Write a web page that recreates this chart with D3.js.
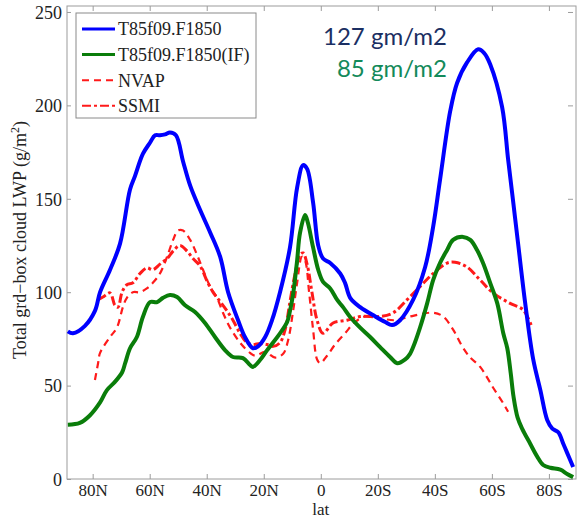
<!DOCTYPE html>
<html>
<head>
<meta charset="utf-8">
<script src="https://cdn.jsdelivr.net/npm/d3@7"></script>
<style>
  body { margin: 0; background: #fff; }
  svg { display: block; }
</style>
</head>
<body>
<div id="chart"></div>
<script>
// latitude in degrees (N positive), LWP in g/m2
const blueLat = [88.7, 86.9, 82.7, 79.2, 77.4, 73.9, 70.4, 66.9, 65.2, 62.4, 59.9, 58.1, 56.4, 54.6, 52.9, 50.8, 48.3, 45.8, 42.3, 38.8, 35.3, 32.5, 29.0, 26.6, 23.8, 22.0, 19.5, 17.1, 14.3, 10.8, 8.3, 6.2, 4.8, 2.7, 0.9, -0.8, -3.3, -6.8, -8.5, -10.3, -13.8, -19.1, -22.6, -25.0, -27.8, -32.4, -36.6, -39.4, -41.8, -45.4, -47.8, -51.3, -55.2, -57.3, -59.4, -63.6, -65.7, -67.5, -69.2, -71.7, -74.5, -77.0, -79.4, -81.2, -83.3, -85.0, -86.4, -88.5];
const blueVal = [79, 78, 82, 90, 100, 112, 126, 155, 162, 174, 180, 184, 184, 184.5, 185.5, 184, 170, 157, 144, 132, 119, 100, 85, 76, 70, 71, 76, 85, 100, 124, 156, 168, 166, 148, 125, 118, 115.6, 110, 105, 97, 92, 87, 84, 82.4, 85, 96, 113.5, 135, 160, 197, 212, 223, 230, 228, 222, 199, 171, 148, 126, 94, 64, 47.6, 31.6, 27, 25, 19, 14, 6.4];

const greenLat = [88.7, 84.5, 81.0, 77.4, 75.0, 72.2, 69.7, 68.6, 66.9, 64.5, 62.4, 59.9, 57.4, 55.3, 52.9, 50.4, 47.6, 44.1, 40.6, 37.1, 33.6, 30.8, 27.3, 24.8, 23.8, 21.3, 18.8, 14.3, 11.8, 10.8, 9.7, 8.3, 7.3, 5.5, 4.5, 2.7, 0.9, -0.8, -3.3, -5.7, -7.8, -10.3, -13.8, -17.3, -20.8, -24.3, -26.8, -29.6, -31.3, -32.4, -34.8, -37.3, -39.4, -41.8, -44.3, -46.4, -49.9, -52.4, -54.8, -56.9, -59.4, -61.9, -64.0, -65.4, -66.6, -67.6, -69.0, -70.6, -73.4, -75.9, -78.0, -80.5, -84.0, -86.4, -88.5];
const greenVal = [29, 30, 34, 41, 47.6, 52, 57, 62, 70, 76, 86.7, 94.7, 94.7, 97, 98.5, 97.4, 93, 89.4, 83.5, 76, 69, 65.3, 64.7, 61, 60, 63.7, 69, 78, 84, 90, 99, 117, 131.6, 141.3, 137, 124, 112, 105.5, 102, 96, 92, 86.7, 81, 76, 70.6, 65.3, 62, 64, 67, 70.6, 81, 94, 106.5, 115.6, 122.6, 128, 129.6, 128, 122.6, 115.6, 105, 94, 78, 70, 56.7, 44, 33, 27, 19, 12, 7.5, 6, 5, 2.7, 1];

const nvapLat = [79.2, 78.1, 77.4, 73.9, 71.5, 69.4, 68.0, 65.9, 63.4, 61.0, 58.9, 56.4, 53.9, 51.8, 50.1, 48.3, 45.8, 43.4, 41.3, 38.8, 36.4, 34.3, 31.8, 28.3, 24.8, 23.0, 19.5, 16.0, 13.2, 11.5, 9.7, 8.3, 6.6, 5.5, 4.1, 2.7, 1.3, 0.2, -2.2, -5.0, -8.5, -12.0, -15.5, -20.8, -26.1, -31.3, -39.4, -42.9, -46.4, -49.6, -52.4, -55.9, -60.4, -64.0, -65.7];
const nvapVal = [53, 62, 67.5, 76, 81, 92, 97, 100, 100, 102, 105, 110, 119, 128, 133, 133, 128, 120, 112, 103, 97, 89, 81, 73, 67.5, 66, 68, 65, 67, 74, 90, 105, 119, 117, 100, 80, 64, 62, 66, 72, 78, 84, 87, 86, 85, 87, 89, 87, 80, 71, 65, 60, 49, 40.5, 36];

const ssmiLat = [78.1, 76.4, 73.9, 72.2, 71.1, 69.7, 68.0, 65.9, 63.4, 61.0, 58.9, 56.4, 53.9, 51.8, 49.4, 46.9, 44.8, 42.3, 39.9, 37.8, 35.3, 32.9, 30.8, 28.3, 25.9, 23.8, 21.3, 18.8, 16.7, 14.3, 12.5, 10.8, 9.0, 7.3, 6.2, 4.8, 3.1, 1.3, -0.8, -4.3, -9.2, -13.8, -20.8, -25.4, -30.3, -34.8, -39.4, -44.3, -47.1, -51.3, -55.9, -60.4, -66.4, -71.0, -74.1];
const ssmiVal = [96, 97.4, 99.6, 93, 92, 100, 104, 105, 110, 113, 112, 115, 118, 122, 125, 122, 118, 114, 106, 100, 95, 90, 85, 78, 73, 72, 72.5, 72, 71, 73, 80, 95, 110, 120, 121, 115, 100, 85, 78, 83.5, 85, 87, 87, 89, 96, 103, 110, 115.6, 116, 113.5, 106.5, 99.6, 94, 90.5, 81];

const seriesNames = ["T85f09.F1850", "T85f09.F1850(IF)", "NVAP", "SSMI"];
const xTicks = [80, 60, 40, 20, 0, -20, -40, -60, -80];
const xTickLabels = ["80N", "60N", "40N", "20N", "0", "20S", "40S", "60S", "80S"];
const yTicks = [0, 50, 100, 150, 200, 250];
const annotations = ["127 gm/m2", "85 gm/m2"];

const W = 577, H = 519;
const plotLeft = 67, plotRight = 576, plotTop = 6, plotBottom = 479;
const serif = "'Liberation Serif', 'Times New Roman', serif";
const axisGrey = "#9c9c9c";

const svg = d3.select("#chart").append("svg")
    .attr("width", W)
    .attr("height", H);

const x = d3.scaleLinear().domain([89, -89.5]).range([plotLeft, plotRight]);
const y = d3.scaleLinear().domain([0, 253.2]).range([plotBottom, plotTop]);

// frame
svg.append("rect")
    .attr("x", plotLeft).attr("y", plotTop)
    .attr("width", plotRight - plotLeft).attr("height", plotBottom - plotTop)
    .attr("fill", "none")
    .attr("stroke", axisGrey)
    .attr("stroke-width", 1);

// bottom axis, ticks pointing in
const xAxis = svg.append("g")
    .attr("transform", `translate(0,${plotBottom})`)
    .call(d3.axisBottom(x).tickValues(xTicks)
        .tickFormat((d, i) => xTickLabels[i])
        .tickSizeInner(-5).tickSizeOuter(0));
// top axis ticks only
const xAxisTop = svg.append("g")
    .attr("transform", `translate(0,${plotTop})`)
    .call(d3.axisTop(x).tickValues(xTicks).tickFormat("").tickSizeInner(-5).tickSizeOuter(0));
// left axis
const yAxis = svg.append("g")
    .attr("transform", `translate(${plotLeft},0)`)
    .call(d3.axisLeft(y).tickValues(yTicks).tickSizeInner(-4).tickSizeOuter(0).tickPadding(5));
// right axis ticks only
const yAxisRight = svg.append("g")
    .attr("transform", `translate(${plotRight - 3},0)`)
    .call(d3.axisRight(y).tickValues(yTicks).tickFormat("").tickSizeInner(-5).tickSizeOuter(0));

[xAxis, xAxisTop, yAxis, yAxisRight].forEach(g => {
    g.select(".domain").remove();
    g.selectAll(".tick line").attr("stroke", axisGrey);
    g.selectAll("text")
        .attr("fill", "#222")
        .style("font-family", serif)
        .style("font-size", "18px");
});
// x tick labels: baseline at ~496px, a touch smaller so "lat" fits below
xAxis.selectAll("text").attr("dy", null).attr("y", 17).style("font-size", "17px");
yAxis.selectAll("text").attr("dy", "0.35em");

// axis labels
svg.append("text")
    .attr("x", x(0))
    .attr("y", 515)
    .attr("text-anchor", "middle")
    .attr("fill", "#222")
    .style("font-family", serif)
    .style("font-size", "17px")
    .text("lat");

const yLab = svg.append("text")
    .attr("transform", "translate(26,240) rotate(-90)")
    .attr("text-anchor", "middle")
    .attr("fill", "#222")
    .style("font-family", serif)
    .style("font-size", "18px");
yLab.append("tspan").text("Total grd\u2212box cloud LWP (g/m");
yLab.append("tspan").attr("baseline-shift", "super").style("font-size", "12px").text("2");
yLab.append("tspan").text(")");

// series
const series = [
    { name: seriesNames[0], lat: blueLat, val: blueVal, color: "#0000ff", width: 4, dash: null },
    { name: seriesNames[1], lat: greenLat, val: greenVal, color: "#0a7d0a", width: 4, dash: null },
    { name: seriesNames[2], lat: nvapLat, val: nvapVal, color: "#ff1a1a", width: 2.2, dash: "7,5" },
    { name: seriesNames[3], lat: ssmiLat, val: ssmiVal, color: "#ff1a1a", width: 3, dash: "9,3,3,3" }
];

const line = d3.line()
    .x(d => x(d[0]))
    .y(d => y(d[1]))
    .curve(d3.curveCatmullRom.alpha(0.5));

// draw red observations first, then models on top
[series[3], series[2], series[1], series[0]].forEach(s => {
    svg.append("path")
        .datum(s.lat.map((l, i) => [l, s.val[i]]))
        .attr("fill", "none")
        .attr("stroke", s.color)
        .attr("stroke-width", s.width)
        .attr("stroke-dasharray", s.dash)
        .attr("stroke-linejoin", "round")
        .attr("d", line);
});

// legend
const legend = svg.append("g");
legend.append("rect")
    .attr("x", 76).attr("y", 13)
    .attr("width", 180).attr("height", 105)
    .attr("fill", "#fff")
    .attr("stroke", "#8a8a8a")
    .attr("stroke-width", 1);

series.forEach((s, i) => {
    const ly = 29 + i * 25.6;
    legend.append("line")
        .attr("x1", 82).attr("x2", 115)
        .attr("y1", ly).attr("y2", ly)
        .attr("stroke", s.color)
        .attr("stroke-width", i < 2 ? 3 : 2)
        .attr("stroke-dasharray", s.dash);
    legend.append("text")
        .attr("x", 118).attr("y", ly)
        .attr("dy", "0.35em")
        .attr("fill", "#222")
        .style("font-family", serif)
        .style("font-size", "18px")
        .text(s.name);
});

// global mean annotations
const annColors = ["#1b2f63", "#138a5a"];
annotations.forEach((t, i) => {
    svg.append("text")
        .attr("x", 447)
        .attr("y", 45 + i * 32)
        .attr("text-anchor", "end")
        .attr("fill", annColors[i])
        .style("font-family", "Lato, 'Open Sans', sans-serif")
        .style("font-size", "24px")
        .text(t);
});
</script>
</body>
</html>
